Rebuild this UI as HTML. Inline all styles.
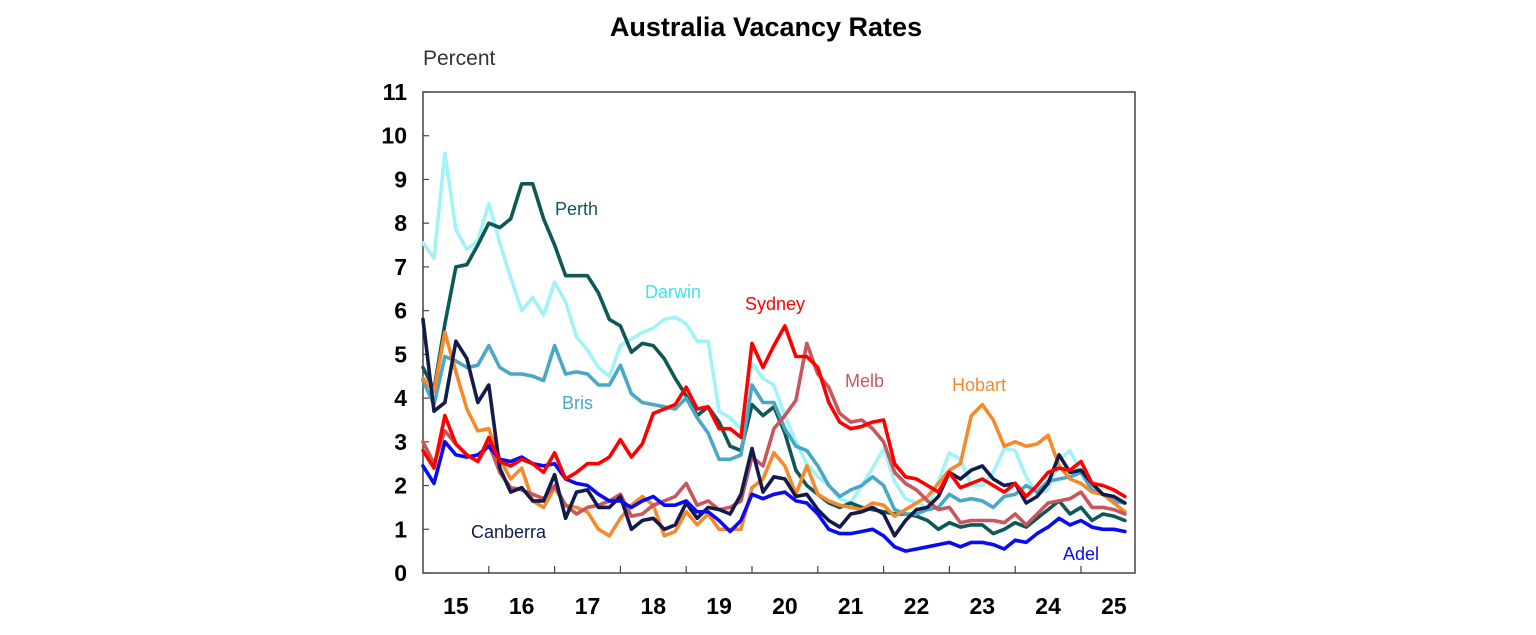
<!DOCTYPE html>
<html><head><meta charset="utf-8"><style>
body{margin:0;background:#fff;width:1536px;height:630px;overflow:hidden;font-family:"Liberation Sans",Arial,sans-serif}
svg text{font-family:"Liberation Sans",Arial,sans-serif}
</style></head><body>
<svg id="chart" width="1536" height="630">
<text x="766" y="36" text-anchor="middle" font-size="27" font-weight="bold" fill="#000">Australia Vacancy Rates</text>
<text x="423" y="65" font-size="21" fill="#333">Percent</text>
<g id="axes"></g><g id="lines"></g><g id="labels"></g>
</svg>
<script>
const yTicks=[0,1,2,3,4,5,6,7,8,9,10,11];
const xYears=[15,16,17,18,19,20,21,22,23,24,25];
const startYear=2015, stepYears=1/6;
const darwin=[7.55,7.2,9.6,7.85,7.4,7.6,8.45,7.55,6.75,6.0,6.3,5.9,6.65,6.2,5.4,5.1,4.7,4.5,5.2,5.35,5.5,5.6,5.8,5.85,5.7,5.3,5.3,3.7,3.55,3.3,4.8,4.45,4.3,3.6,3.0,2.5,2.2,2.0,1.7,1.6,2.0,2.4,2.85,2.1,1.7,1.6,1.5,2.1,2.75,2.6,2.0,2.0,2.3,2.85,2.8,2.2,1.8,1.9,2.6,2.8,2.3,2.0,1.8,1.6,1.6];
const perth=[4.7,4.2,5.7,7.0,7.05,7.5,8.0,7.9,8.1,8.9,8.9,8.1,7.5,6.8,6.8,6.8,6.4,5.8,5.65,5.05,5.25,5.2,4.9,4.45,4.05,3.6,3.8,3.45,2.9,2.8,3.85,3.6,3.8,3.2,2.35,2.0,1.8,1.6,1.5,1.6,1.5,1.45,1.4,1.35,1.35,1.3,1.2,1.0,1.15,1.05,1.1,1.1,0.9,1.0,1.15,1.05,1.25,1.45,1.65,1.35,1.5,1.2,1.35,1.3,1.2];
const bris=[4.4,3.85,4.95,4.85,4.7,4.75,5.2,4.7,4.55,4.55,4.5,4.4,5.2,4.55,4.6,4.55,4.3,4.3,4.75,4.1,3.9,3.85,3.8,3.75,4.0,3.55,3.2,2.6,2.6,2.7,4.3,3.9,3.9,3.3,2.9,2.8,2.45,2.0,1.75,1.9,2.0,2.2,2.0,1.45,1.35,1.35,1.45,1.5,1.8,1.65,1.7,1.65,1.5,1.75,1.8,2.0,1.85,2.1,2.15,2.2,2.3,1.9,1.8,1.65,1.6];
const hobart=[4.45,4.15,5.5,4.6,3.75,3.25,3.3,2.6,2.15,2.4,1.65,1.5,1.95,1.55,1.5,1.4,1.0,0.85,1.25,1.55,1.75,1.55,0.85,0.95,1.4,1.1,1.35,1.0,1.0,1.0,1.95,2.15,2.75,2.45,1.8,2.45,1.8,1.65,1.55,1.5,1.45,1.6,1.55,1.3,1.45,1.6,1.75,2.05,2.35,2.5,3.6,3.85,3.5,2.9,3.0,2.9,2.95,3.15,2.45,2.15,2.05,1.85,1.8,1.6,1.4];
const melb=[3.0,2.5,3.25,2.95,2.7,2.55,2.95,2.3,1.95,1.9,1.8,1.7,2.0,1.55,1.35,1.5,1.55,1.65,1.8,1.3,1.35,1.55,1.65,1.75,2.05,1.55,1.65,1.45,1.5,1.65,2.65,2.45,3.3,3.6,3.95,5.25,4.55,4.25,3.65,3.45,3.5,3.3,3.0,2.3,2.05,1.9,1.65,1.45,1.5,1.15,1.2,1.2,1.2,1.15,1.35,1.1,1.35,1.6,1.65,1.7,1.85,1.5,1.5,1.45,1.35];
const canberra=[5.8,3.7,3.9,5.3,4.9,3.9,4.3,2.4,1.85,1.95,1.65,1.65,2.25,1.25,1.85,1.9,1.5,1.5,1.75,1.0,1.2,1.25,1.0,1.1,1.6,1.25,1.5,1.45,1.35,1.8,2.85,1.85,2.2,2.15,1.75,1.8,1.45,1.2,1.05,1.35,1.4,1.5,1.35,0.85,1.2,1.45,1.5,1.75,2.3,2.15,2.35,2.45,2.15,2.0,2.05,1.6,1.75,2.05,2.7,2.3,2.35,2.05,1.8,1.75,1.6];
const adel=[2.45,2.05,3.0,2.7,2.65,2.7,2.9,2.6,2.55,2.65,2.5,2.45,2.5,2.15,2.05,2.0,1.8,1.65,1.65,1.5,1.65,1.75,1.55,1.55,1.65,1.4,1.4,1.2,0.95,1.2,1.8,1.7,1.8,1.85,1.65,1.6,1.35,1.0,0.9,0.9,0.95,1.0,0.85,0.6,0.5,0.55,0.6,0.65,0.7,0.6,0.7,0.7,0.65,0.55,0.75,0.7,0.9,1.05,1.25,1.1,1.2,1.05,1.0,1.0,0.95];
const sydney=[2.8,2.4,3.6,2.95,2.7,2.55,3.1,2.55,2.45,2.6,2.5,2.3,2.75,2.15,2.3,2.5,2.5,2.65,3.05,2.65,2.95,3.65,3.75,3.85,4.25,3.75,3.8,3.3,3.3,3.1,5.25,4.7,5.2,5.65,4.95,4.95,4.7,3.9,3.45,3.3,3.35,3.45,3.5,2.5,2.2,2.15,2.0,1.85,2.3,1.95,2.05,2.15,2.0,1.85,2.05,1.75,2.0,2.3,2.4,2.35,2.55,2.05,2.0,1.9,1.75];
const seriesNames=["darwin","perth","bris","hobart","melb","canberra","adel","sydney"];
const seriesData=[darwin,perth,bris,hobart,melb,canberra,adel,sydney];
const seriesColors=["#a2f3f8","#0e5858","#4aa7c6","#f58a2c","#c8565e","#121b4b","#0b0bf2","#ff0000"];
const labelText=["Darwin","Perth","Bris","Hobart","Melb","Canberra","Adel","Sydney"];
const labelPos=[[645,298],[555,215],[562,409],[952,391],[845,387],[471,538],[1063,560],[745,310]];
const labelColors=["#3fe3f0","#0e5858","#4aa7c6","#f58a2c","#c8565e","#121b4b","#0b0bf2","#ff0000"];

const L=423,R=1135,T=92,B=573;
const yS=v=>B-(v-0)*(B-T)/11;
const xS=t=>L+(t-2015)*65.8;
const NS="http://www.w3.org/2000/svg";
function mk(tag,attrs,parent){const e=document.createElementNS(NS,tag);for(const k in attrs)e.setAttribute(k,attrs[k]);parent.appendChild(e);return e;}
const axes=document.getElementById('axes'),lines=document.getElementById('lines'),labels=document.getElementById('labels');
const frame=mk('rect',{x:L,y:T,width:R-L,height:B-T,fill:'none',stroke:'#444','stroke-width':1.5},axes);


yTicks.forEach(v=>{
  const tk=mk('line',{x1:L,x2:L+6,y1:yS(v),y2:yS(v),stroke:'#444','stroke-width':1.2},axes);
  
  
  const t=mk('text',{x:407,y:yS(v)+8,'text-anchor':'end','font-size':23,'font-weight':'bold',fill:'#000'},axes);
  t.textContent=v;
  
  
});
xYears.forEach(y=>{
  const yr=2000+y;
  if(yr>2015){const tk=mk('line',{x1:xS(yr),x2:xS(yr),y1:B,y2:B-7,stroke:'#444','stroke-width':1.2},axes);
  
  }
  const t=mk('text',{x:xS(yr+0.5),y:614,'text-anchor':'middle','font-size':23,'font-weight':'bold',fill:'#000'},axes);
  t.textContent=y;
  
  
});
seriesData.forEach((arr,s)=>{
  const pts=arr.map((v,i)=>xS(startYear+i*stepYears).toFixed(1)+','+yS(v).toFixed(1)).join(' ');
  const p=mk('polyline',{points:pts,fill:'none',stroke:seriesColors[s],'stroke-width':3.6,'stroke-linejoin':'round','stroke-linecap':'round'},lines);
  
  
  const t=mk('text',{x:labelPos[s][0],y:labelPos[s][1],'font-size':18,fill:labelColors[s]},labels);
  t.textContent=labelText[s];
  
  
});
</script>
</body></html>
